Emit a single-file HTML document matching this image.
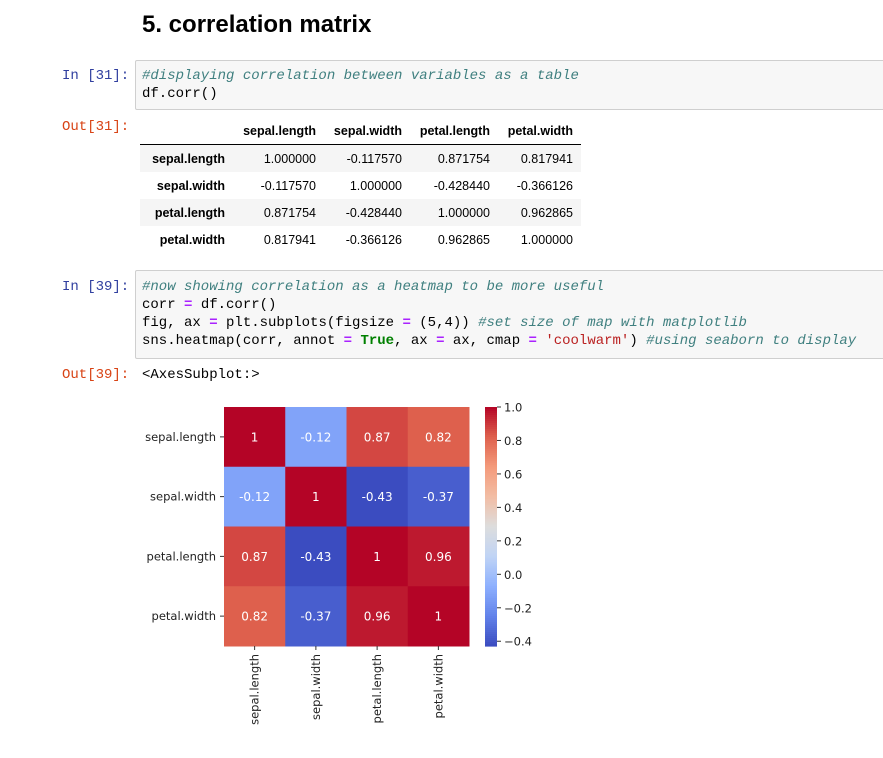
<!DOCTYPE html>
<html><head><meta charset="utf-8"><style>
body{margin:0;width:883px;height:758px;background:#fff;position:relative;overflow:hidden;font-family:"Liberation Sans",sans-serif}
.abs{position:absolute}
.mono{font-family:"Liberation Mono",monospace;font-size:14px;line-height:18px;white-space:pre}
.pin{color:#303F9F}.pout{color:#D84315}
.cell{position:absolute;left:135px;right:-2px;background:#f7f7f7;border:1px solid #cfcfcf;border-radius:2px}
.c{color:#408080;font-style:italic}.o{color:#AA22FF;font-weight:bold}.k{color:#008000;font-weight:bold}.s{color:#BA2121}
table{border-collapse:collapse;font-size:12.5px;color:#000;table-layout:fixed;width:441px}
td,th{text-align:right;padding:0 8px;height:27px;white-space:nowrap;overflow:visible}
th{font-weight:bold}
thead th{border-bottom:1px solid #000}
tbody tr:nth-child(odd){background:#f5f5f5}
</style></head><body>
<div class="abs" style="left:142px;top:11px;font-size:24px;font-weight:bold;">5. correlation matrix</div>

<div class="abs mono pin" style="left:62px;top:67px">In [31]:</div>
<div class="cell" style="top:60px;height:48px"></div>
<div class="abs mono" style="left:142px;top:67px"><span class="c">#displaying correlation between variables as a table</span>
df.corr()</div>

<div class="abs mono pout" style="left:62px;top:118px">Out[31]:</div>
<table class="abs" style="left:140px;top:117px">
<colgroup><col style="width:93px"><col style="width:91px"><col style="width:86px"><col style="width:88px"><col style="width:83px"></colgroup>
<thead><tr><th></th><th>sepal.length</th><th>sepal.width</th><th>petal.length</th><th>petal.width</th></tr></thead>
<tbody>
<tr><th>sepal.length</th><td>1.000000</td><td>-0.117570</td><td>0.871754</td><td>0.817941</td></tr>
<tr><th>sepal.width</th><td>-0.117570</td><td>1.000000</td><td>-0.428440</td><td>-0.366126</td></tr>
<tr><th>petal.length</th><td>0.871754</td><td>-0.428440</td><td>1.000000</td><td>0.962865</td></tr>
<tr><th>petal.width</th><td>0.817941</td><td>-0.366126</td><td>0.962865</td><td>1.000000</td></tr>
</tbody></table>

<div class="abs mono pin" style="left:62px;top:278px">In [39]:</div>
<div class="cell" style="top:270px;height:87px"></div>
<div class="abs mono" style="left:142px;top:278px"><span class="c">#now showing correlation as a heatmap to be more useful</span>
corr <span class="o">=</span> df.corr()
fig, ax <span class="o">=</span> plt.subplots(figsize <span class="o">=</span> (5,4)) <span class="c">#set size of map with matplotlib</span>
sns.heatmap(corr, annot <span class="o">=</span> <span class="k">True</span>, ax <span class="o">=</span> ax, cmap <span class="o">=</span> <span class="s">'coolwarm'</span>) <span class="c">#using seaborn to display</span></div>

<div class="abs mono pout" style="left:62px;top:366px">Out[39]:</div>
<div class="abs mono" style="left:142px;top:366px">&lt;AxesSubplot:&gt;</div>

<svg class="abs" style="left:0;top:0" width="883" height="758" id="chart"></svg>
<script>
const labels=["sepal.length","sepal.width","petal.length","petal.width"];
const row0=[1,-0.12,0.87,0.82];
const row1=[-0.12,1,-0.43,-0.37];
const row2=[0.87,-0.43,1,0.96];
const row3=[0.82,-0.37,0.96,1];
const cbTicks=[1.0,0.8,0.6,0.4,0.2,0.0,-0.2,-0.4];
const vmin=-0.42844, vmax=1.0;
const rows=[row0,row1,row2,row3];
const NS="http://www.w3.org/2000/svg";
const svg=document.getElementById('chart');
const L=224,R=469,T=407,B=646;
const cw=(R-L)/labels.length, ch=(B-T)/labels.length;
const stops=[[0,[59,76,192]],[0.125,[98,130,234]],[0.25,[141,176,254]],[0.375,[192,212,245]],[0.5,[221,221,221]],[0.625,[242,189,164]],[0.75,[244,154,123]],[0.875,[222,96,77]],[1,[180,4,38]]];
function cmap(v){let t=(v-vmin)/(vmax-vmin);t=Math.max(0,Math.min(1,t));
 for(let i=1;i<stops.length;i++){if(t<=stops[i][0]){const a=stops[i-1],b=stops[i];const f=(t-a[0])/(b[0]-a[0]);
 return 'rgb('+a[1].map((c,j)=>Math.round(c+(b[1][j]-c)*f)).join(',')+')';}}return 'rgb(180,4,38)';}
function el(tag,attrs){const e=document.createElementNS(NS,tag);for(const k in attrs)e.setAttribute(k,attrs[k]);svg.appendChild(e);return e;}
const font='"DejaVu Sans","Liberation Sans",sans-serif';
rows.forEach((r,i)=>r.forEach((v,j)=>{
 const rc=el('rect',{x:L+j*cw,y:T+i*ch,width:cw+0.5,height:ch+0.5,fill:cmap(v)});
 
 
 const tx=el('text',{x:L+(j+0.5)*cw,y:T+(i+0.5)*ch+4.5,'text-anchor':'middle','font-size':'12','font-family':font,fill:'#fff'});
 tx.textContent=String(v);
 
 
}));
labels.forEach((lab,i)=>{
 const y=T+(i+0.5)*ch;
 el('line',{x1:L-4,x2:L,y1:y,y2:y,stroke:'#333'});
 const t=el('text',{x:L-8,y:y+4,'text-anchor':'end','font-size':'11.5',fill:'#222','font-family':font});
 t.textContent=lab;
 
 
 const x=L+(i+0.5)*cw;
 el('line',{x1:x,x2:x,y1:B,y2:B+4,stroke:'#333'});
 const t2=el('text',{x:0,y:0,'text-anchor':'end','font-size':'11.5',fill:'#222','font-family':font,transform:`translate(${x+4},${B+8}) rotate(-90)`});
 t2.textContent=lab;
 
 
});
const CL=485,CR=497,N=120;
for(let k=0;k<N;k++){const v=vmax-(k+0.5)/N*(vmax-vmin);
 const r=el('rect',{x:CL,y:T+k*(B-T)/N,width:CR-CL,height:(B-T)/N+0.6,fill:cmap(v)});
 
 }
cbTicks.forEach(v=>{const y=T+(vmax-v)/(vmax-vmin)*(B-T);
 el('line',{x1:CR,x2:CR+4,y1:y,y2:y,stroke:'#333'});
 const t=el('text',{x:CR+7,y:y+4.5,'font-size':'11.5',fill:'#222','font-family':font});
 t.textContent=(v<0?'\u2212'+Math.abs(v).toFixed(1):v.toFixed(1));
 
 });
</script>
</body></html>
